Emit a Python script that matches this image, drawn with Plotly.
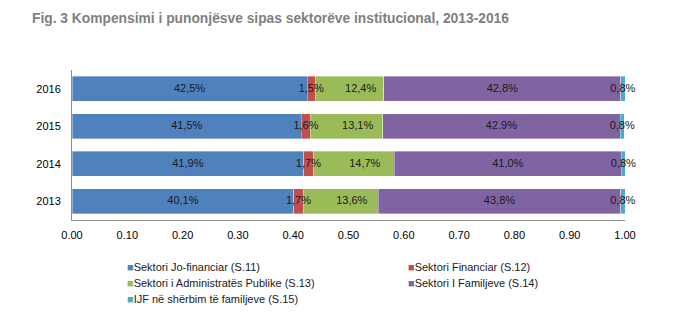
import plotly.graph_objects as go

years = ["2013", "2014", "2015", "2016"]
series_names = [
    "Sektori Jo-financiar (S.11)",
    "Sektori Financiar (S.12)",
    "Sektori i Administratës Publike (S.13)",
    "Sektori I Familjeve (S.14)",
    "IJF në shërbim të familjeve (S.15)",
]
colors = ["#4F81BD", "#C0504D", "#9BBB59", "#8064A2", "#4BACC6"]

# shares per year (2013..2016)
s11 = [0.401, 0.419, 0.415, 0.425]
s12 = [0.017, 0.017, 0.016, 0.015]
s13 = [0.136, 0.147, 0.131, 0.124]
s14 = [0.438, 0.410, 0.429, 0.428]
s15 = [0.008, 0.008, 0.008, 0.008]
values = [s11, s12, s13, s14, s15]

labels_s11 = ["40,1%", "41,9%", "41,5%", "42,5%"]
labels_s12 = ["1,7%", "1,7%", "1,6%", "1,5%"]
labels_s13 = ["13,6%", "14,7%", "13,1%", "12,4%"]
labels_s14 = ["43,8%", "41,0%", "42.9%", "42,8%"]
labels_s15 = ["0,8%", "0,8%", "0,8%", "0,8%"]
labels = [labels_s11, labels_s12, labels_s13, labels_s14, labels_s15]

FONT = "Liberation Sans, Arial, sans-serif"

# plot area in pixels, used to place the key below the axis
PLOT_L, PLOT_R, PLOT_T, PLOT_B = 72, 625, 70, 220
W, H = 683, 324

fig = go.Figure()
for name, vals, col in zip(series_names, values, colors):
    fig.add_trace(go.Bar(
        y=years, x=vals, name=name, orientation="h",
        marker=dict(color=col, line=dict(color="rgba(255,255,255,0.6)", width=0.6)),
        hoverinfo="x+name", showlegend=False,
    ))

# value labels centred on each segment (text-only scatter, one per series)
for k, (vals, labs) in enumerate(zip(values, labels)):
    mids = []
    for i in range(len(years)):
        start = sum(values[j][i] for j in range(k))
        mids.append(start + vals[i] / 2)
    if k == 2:
        # the public-sector labels sit a little right of centre
        mids = [m + 0.02 for m in mids]
    fig.add_trace(go.Scatter(
        x=mids, y=years, mode="text", text=labs, textposition="middle center",
        textfont=dict(family=FONT, size=11, color="#1a1a1a"),
        showlegend=False, hoverinfo="skip", cliponaxis=False,
    ))

# two-column key: square swatch followed by the series name
key_cols_px = [125, 406]
key_rows_px = [267, 283, 299]
annotations = []
for idx, (name, col) in enumerate(zip(series_names, colors)):
    cx = key_cols_px[idx % 2]
    cy = key_rows_px[idx // 2]
    annotations.append(dict(
        xref="paper", yref="paper",
        x=(cx - PLOT_L) / (PLOT_R - PLOT_L), y=(PLOT_B - cy) / (PLOT_B - PLOT_T),
        xanchor="left", yanchor="middle", showarrow=False,
        text=f'<span style="color:{col}">■</span>{name}',
        font=dict(family=FONT, size=11, color="#1a1a1a"),
    ))

fig.update_layout(
    width=W, height=H,
    margin=dict(l=PLOT_L, r=W - PLOT_R, t=PLOT_T, b=H - PLOT_B, autoexpand=False),
    barmode="stack", bargap=0.333,
    plot_bgcolor="white", paper_bgcolor="white",
    font=dict(family=FONT, size=11, color="#000000"),
    showlegend=False,
    title=dict(
        text="<b>Fig. 3 Kompensimi i punonjësve sipas sektorëve institucional, 2013-2016</b>",
        xref="container", yref="container", x=32 / W, xanchor="left",
        y=1 - 18.5 / H, yanchor="middle",
        font=dict(family=FONT, size=13.8, color="#7f7f7f"),
    ),
    xaxis=dict(
        range=[0, 1], tickvals=[i / 10 for i in range(11)], tickformat=".2f",
        showgrid=False, zeroline=False, showline=True, linecolor="#8c8c8c", linewidth=1,
        ticks="", ticklabelstandoff=5, tickfont=dict(size=11),
    ),
    yaxis=dict(
        categoryorder="array", categoryarray=years, range=[-0.5, 3.5],
        showgrid=False, zeroline=False, showline=True, linecolor="#8c8c8c", linewidth=1,
        ticks="", ticklabelstandoff=8, tickfont=dict(size=11),
    ),
    annotations=annotations,
)

fig.write_html("out.html")
